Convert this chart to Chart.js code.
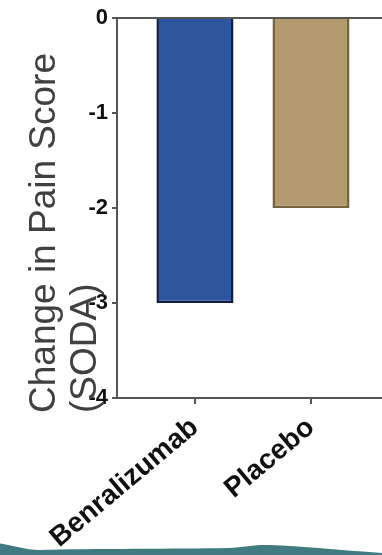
<!DOCTYPE html>
<html>
<head>
<meta charset="utf-8">
<script src="https://cdn.jsdelivr.net/npm/chart.js@4"></script>
<style>
  html, body { margin: 0; padding: 0; background: #fff; overflow: hidden; }
  #wrap { position: relative; width: 382px; height: 555px; }
  #chart { position: absolute; left: 0; top: 0; }
  #wave { position: absolute; left: 0; bottom: 0; }
</style>
</head>
<body>
<div id="wrap">
  <canvas id="chart" width="382" height="555"></canvas>
  <svg id="wave" width="382" height="14" viewBox="0 541 382 14">
    <path d="M0 543.5 C 12 545, 25 550, 40 550 C 90 548.5, 180 549, 228 548 C 245 547, 255 544.5, 270 545 C 300 546, 340 550, 382 553 L 382 555 L 0 555 Z" fill="#3f7b80"/>
  </svg>
</div>
<script>
// Groups and their mean change in pain score
const categories = ['Benralizumab', 'Placebo'];
const changeInPain = [-3, -2];
const yTicks = [0, -1, -2, -3, -4];
const yTitleLines = ['Change in Pain Score', '(SODA)'];

const fillColors = ['#2e569f', '#b49a6f'];
const edgeColors = ['#0c1c44', '#786341'];
const axisGrey = '#555555';

// Two-line y-axis caption, anchored just below the bottom of the plot area
const yCaption = {
  id: 'yCaption',
  afterDraw(chart, args, opts) {
    const { ctx, chartArea } = chart;
    ctx.save();
    ctx.font = opts.font;
    ctx.fillStyle = opts.color;
    ctx.textAlign = 'left';
    ctx.textBaseline = 'alphabetic';
    opts.lines.forEach((line, i) => {
      ctx.save();
      ctx.translate(opts.firstBaseline + i * opts.lineGap, chartArea.bottom + opts.drop);
      ctx.rotate(-Math.PI / 2);
      ctx.fillText(line, 0, 0);
      ctx.restore();
    });
    ctx.restore();
  }
};

new Chart(document.getElementById('chart'), {
  type: 'bar',
  data: {
    datasets: [{
      data: changeInPain.map((v, i) => ({ x: i, y: v })),
      backgroundColor: fillColors,
      borderColor: edgeColors,
      borderWidth: 2.5,
      barPercentage: 0.83,
      categoryPercentage: 0.8
    }]
  },
  options: {
    responsive: false,
    animation: false,
    layout: { padding: { top: 18, left: 0, right: 0, bottom: 0 } },
    plugins: {
      legend: { display: false },
      tooltip: { enabled: false },
      yCaption: {
        lines: yTitleLines,
        font: '37px "Liberation Sans", Arial, sans-serif',
        color: '#404040',
        firstBaseline: 55,
        lineGap: 41,
        drop: 15
      }
    },
    scales: {
      x: {
        type: 'linear',
        offset: false,
        min: -0.672,
        max: 1.612,
        afterFit: s => { s.height = 157; },
        afterBuildTicks: s => { s.ticks = categories.map((c, i) => ({ value: i })); },
        border: { display: true, color: axisGrey, width: 2 },
        grid: { offset: false, drawOnChartArea: false, color: axisGrey, lineWidth: 2, tickLength: 6 },
        ticks: {
          autoSkip: false,
          minRotation: 40,
          maxRotation: 40,
          padding: 7,
          color: '#111',
          font: { family: '"Liberation Sans", Arial, sans-serif', size: 28, weight: 'bold' },
          callback: v => categories[v]
        }
      },
      y: {
        min: -4,
        max: 0,
        afterFit: s => { s.width = 117; },
        afterBuildTicks: s => { s.ticks = yTicks.map(v => ({ value: v })); },
        border: { display: true, color: axisGrey, width: 2 },
        grid: {
          drawOnChartArea: true,
          color: c => (c.tick && c.tick.value === 0 ? axisGrey : 'rgba(0,0,0,0)'),
          tickColor: axisGrey,
          lineWidth: 2,
          tickLength: 5
        },
        ticks: {
          padding: 4,
          color: '#111',
          font: { family: '"Liberation Sans", Arial, sans-serif', size: 22, weight: 'bold' }
        }
      }
    }
  },
  plugins: [yCaption]
});
</script>
</body>
</html>
